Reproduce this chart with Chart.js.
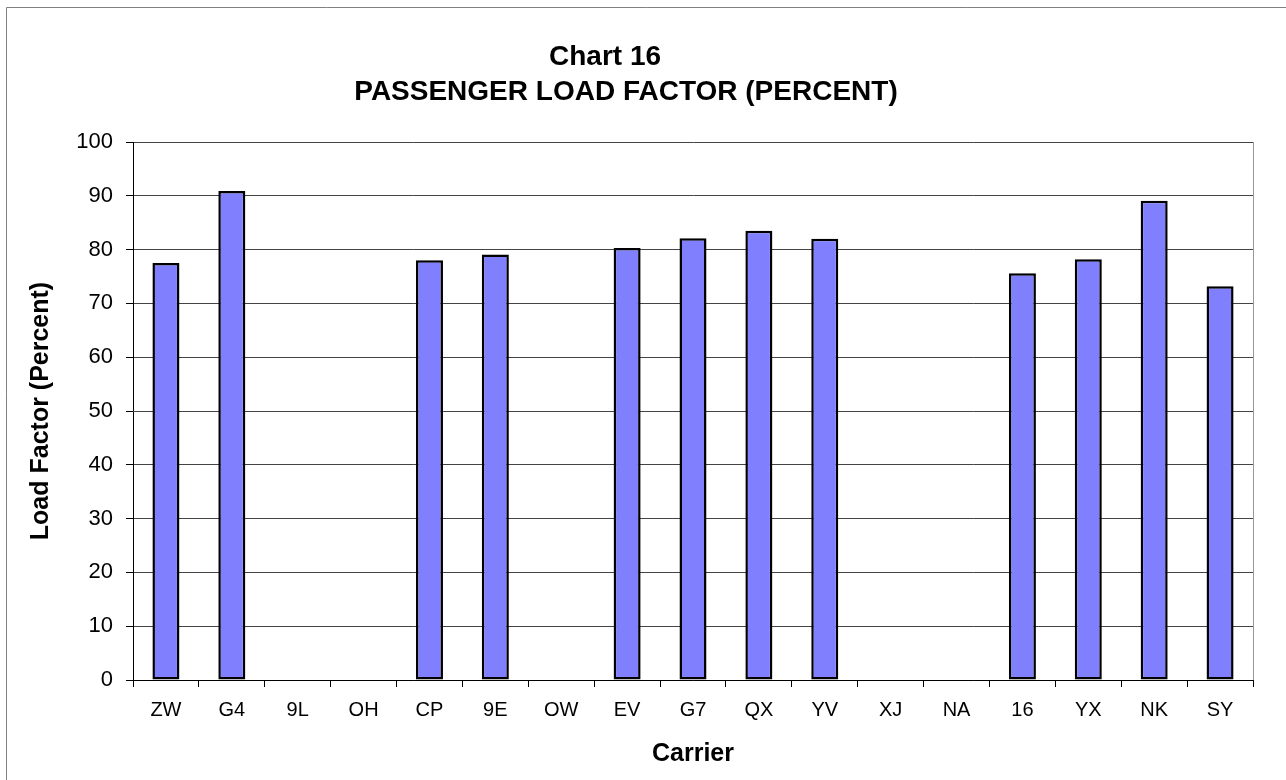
<!DOCTYPE html>
<html>
<head>
<meta charset="utf-8">
<title>Chart 16</title>
<script src="https://cdn.jsdelivr.net/npm/chart.js@4.4.1/dist/chart.umd.min.js"></script>
<style>
  body { margin: 0; background: #fff; }
  canvas { display: block; }
</style>
</head>
<body>
<canvas id="chart" width="1286" height="780"></canvas>
<script>
// carriers along the x axis
const carriers = ['ZW', 'G4', '9L', 'OH', 'CP', '9E', 'OW', 'EV', 'G7', 'QX', 'YV', 'XJ', 'NA', '16', 'YX', 'NK', 'SY'];
// passenger load factor, percent (null = no bar)
const loadFactor = [77.5, 90.9, null, null, 78.0, 79.1, null, 80.3, 82.1, 83.5, 82.0, null, null, 75.6, 78.2, 89.1, 73.2];
const titleLines = ['Chart 16', 'PASSENGER LOAD FACTOR (PERCENT)'];

const FONT = '"Liberation Sans", Arial, sans-serif';

// white background, thin gray frame, gray right edge of the plot, title
const framePlugin = {
  id: 'frame',
  beforeDraw(chart) {
    const ctx = chart.ctx;
    ctx.save();
    ctx.fillStyle = '#fff';
    ctx.fillRect(0, 0, chart.width, chart.height);
    ctx.strokeStyle = '#808080';
    ctx.lineWidth = 1;
    ctx.beginPath();
    ctx.moveTo(6.5, chart.height);
    ctx.lineTo(6.5, 7.5);
    ctx.lineTo(chart.width, 7.5);
    ctx.stroke();
    ctx.restore();
  },
  afterDatasetsDraw(chart) {
    const a = chart.chartArea;
    const ctx = chart.ctx;
    ctx.save();
    ctx.strokeStyle = '#999';
    ctx.lineWidth = 1;
    ctx.beginPath();
    ctx.moveTo(Math.round(a.right) + 0.5, a.top);
    ctx.lineTo(Math.round(a.right) + 0.5, a.bottom);
    ctx.stroke();
    // the first title line sits a little left of the second one in the original
    ctx.fillStyle = '#000';
    ctx.font = 'bold 28px ' + FONT;
    ctx.textAlign = 'center';
    ctx.textBaseline = 'alphabetic';
    ctx.fillText(titleLines[0], 605, 65);
    ctx.fillText(titleLines[1], 626, 100);
    ctx.restore();
  }
};

new Chart(document.getElementById('chart'), {
  type: 'bar',
  data: {
    labels: carriers,
    datasets: [{
      label: 'Load Factor',
      data: loadFactor,
      backgroundColor: '#8080ff',
      borderColor: '#000',
      borderWidth: 2.5,
      borderSkipped: false,
      categoryPercentage: 1,
      barPercentage: 0.41
    }]
  },
  options: {
    responsive: false,
    animation: false,
    devicePixelRatio: 1,
    layout: { padding: { left: 0, right: 33, top: 142, bottom: 0 } },
    plugins: {
      legend: { display: false },
      tooltip: { enabled: false },
      title: { display: false }
    },
    scales: {
      x: {
        grid: {
          display: true,
          drawOnChartArea: false,
          tickLength: 7,
          tickColor: '#000',
          offset: true
        },
        border: { color: '#000', width: 1 },
        ticks: {
          color: '#000',
          font: { family: FONT, size: 20 },
          padding: 11,
          autoSkip: false,
          maxRotation: 0
        },
        title: {
          display: true,
          text: 'Carrier',
          color: '#000',
          font: { family: FONT, size: 25, weight: 'bold', lineHeight: 1.2 },
          padding: { top: 0, bottom: 11 }
        },
        afterFit(scale) { scale.height = 100; }
      },
      y: {
        min: 0,
        max: 100,
        grid: {
          color: '#444',
          lineWidth: 1,
          tickLength: 7,
          tickColor: '#000'
        },
        border: { color: '#000', width: 1 },
        ticks: {
          stepSize: 10,
          color: '#000',
          font: { family: FONT, size: 22 },
          padding: 13
        },
        title: {
          display: true,
          text: 'Load Factor (Percent)',
          color: '#000',
          font: { family: FONT, size: 25, weight: 'bold', lineHeight: 1.2 },
          padding: { top: 26, bottom: 0 }
        },
        afterFit(scale) { scale.width = 133; }
      }
    }
  },
  plugins: [framePlugin]
});
</script>
</body>
</html>
